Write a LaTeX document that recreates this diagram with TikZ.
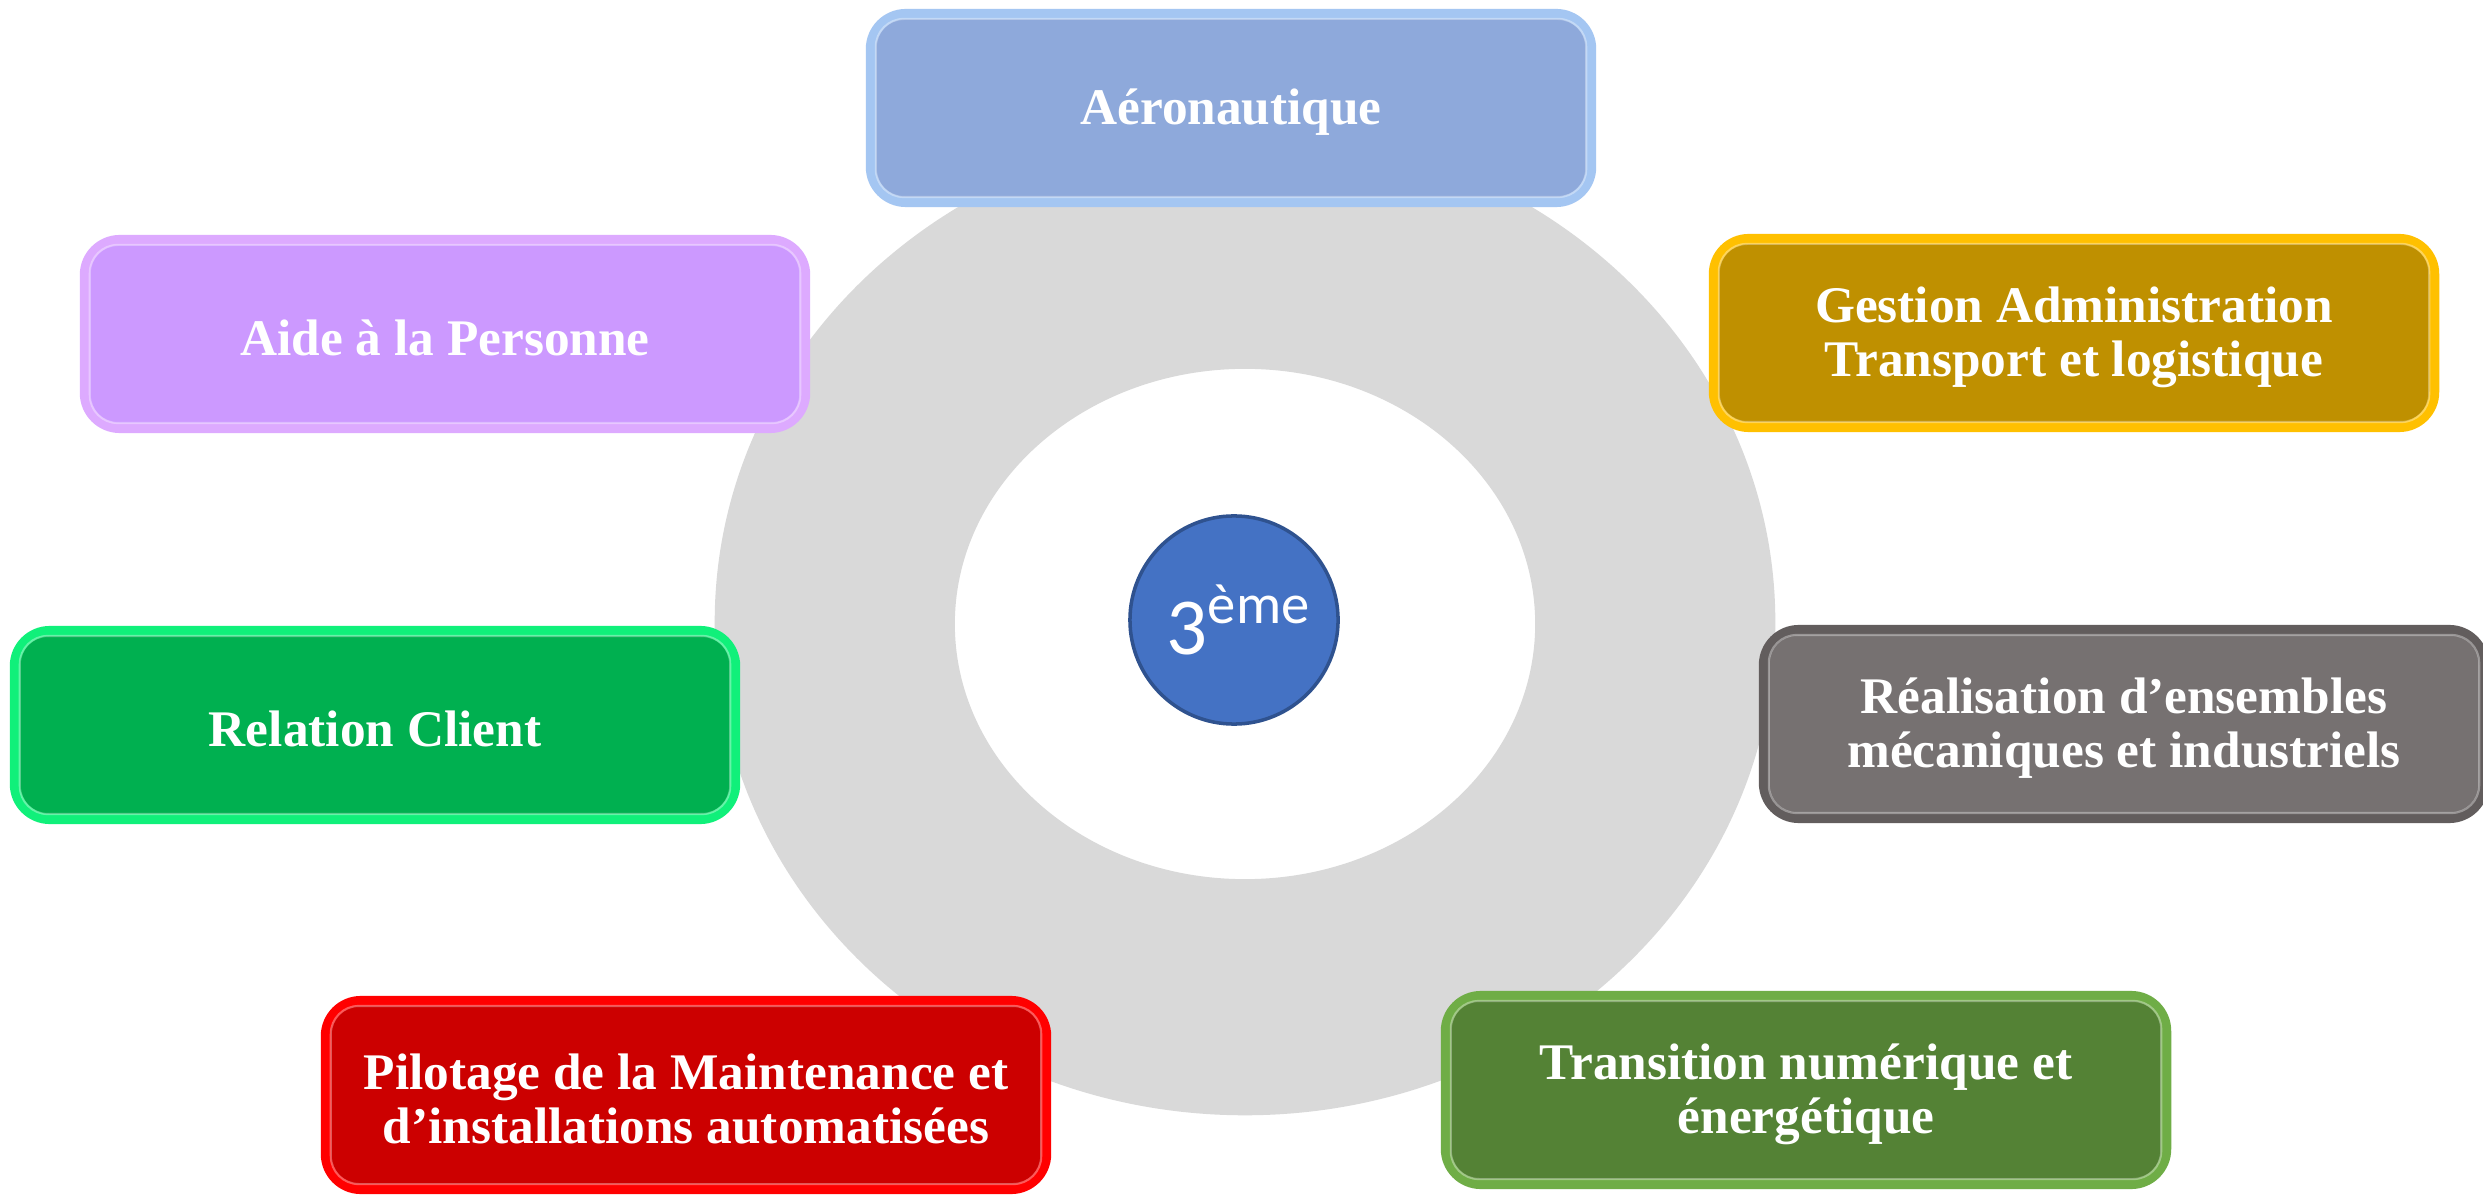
\documentclass[tikz,border=0pt]{standalone}
\usepackage{fontspec}
\setmainfont{Liberation Serif}
\newfontfamily\centrefont{Carlito}
\usetikzlibrary{positioning}

\definecolor{ringgrey}{HTML}{D9D9D9}
\definecolor{centreblue}{HTML}{4472C4}
\definecolor{centreedge}{HTML}{2F528F}
\definecolor{aerofill}{HTML}{8EA9DB}
\definecolor{aeroedge}{HTML}{A4C6F2}
\definecolor{gestfill}{HTML}{BF9000}
\definecolor{gestedge}{HTML}{FFC000}
\definecolor{aidefill}{HTML}{CC99FF}
\definecolor{aideedge}{HTML}{DDAAFF}
\definecolor{relfill}{HTML}{00B050}
\definecolor{reledge}{HTML}{10F07A}
\definecolor{realfill}{HTML}{767171}
\definecolor{realedge}{HTML}{625D5D}
\definecolor{pilfill}{HTML}{CC0000}
\definecolor{piledge}{HTML}{FF0000}
\definecolor{transfill}{HTML}{548235}
\definecolor{transedge}{HTML}{6FAD46}

\tikzset{
  domainbox/.style 2 args={rectangle, rounded corners=0.35cm, fill=#1, draw=#2,
    line width=0.1cm, minimum width=7.2cm, minimum height=1.88cm},
  domaintext/.style={text=white, align=center, inner sep=0pt,
    font=\bfseries\fontsize{14.6}{15.4}\selectfont},
  innerline/.style={draw=white, draw opacity=0.35, line width=0.6pt}
}

\begin{document}
\begin{tikzpicture}[x=0.01cm,y=-0.01cm]
  \useasboundingbox (0,0) rectangle (2483,1195);
  \fill[white] (0,0) rectangle (2483,1195);
  % grey ring behind the boxes
  \fill[ringgrey, even odd rule] (1245,622) ellipse [x radius=5.3cm, y radius=4.93cm]
    (1245,624) ellipse [x radius=2.9cm, y radius=2.55cm];
  \node[circle, fill=centreblue, draw=centreedge, line width=1pt, minimum size=2.08cm,
    text=white, font=\centrefont\fontsize{23}{26}\selectfont] (centre) at (1234,620)
    {\hspace{0.1cm}3\textsuperscript{ème}};
  % the seven domains
  \foreach \name/\x/\y/\fc/\ec/\txt in {
    aero/1231/108/aerofill/aeroedge/{Aéronautique},
    gestion/2074/333/gestfill/gestedge/{Gestion Administration\\Transport et logistique},
    aide/445/334/aidefill/aideedge/{Aide à la Personne},
    relation/375/725/relfill/reledge/{Relation Client},
    realisation/2124/724/realfill/realedge/{Réalisation d’ensembles\\mécaniques et industriels},
    pilotage/686/1095/pilfill/piledge/{Pilotage de la Maintenance et\\d’installations automatisées},
    transition/1806/1090/transfill/transedge/{Transition numérique et\\énergétique}}{
    \node[domainbox={\fc}{\ec}] (\name) at (\x,\y) {};
    \draw[innerline, rounded corners=0.28cm] ([shift={(0.1cm,-0.1cm)}]\name.north west)
      rectangle ([shift={(-0.1cm,0.1cm)}]\name.south east);
    \node[domaintext] (\name txt) at ([yshift=-0.04cm]\name.center) {\txt};
  }
\end{tikzpicture}
\end{document}
